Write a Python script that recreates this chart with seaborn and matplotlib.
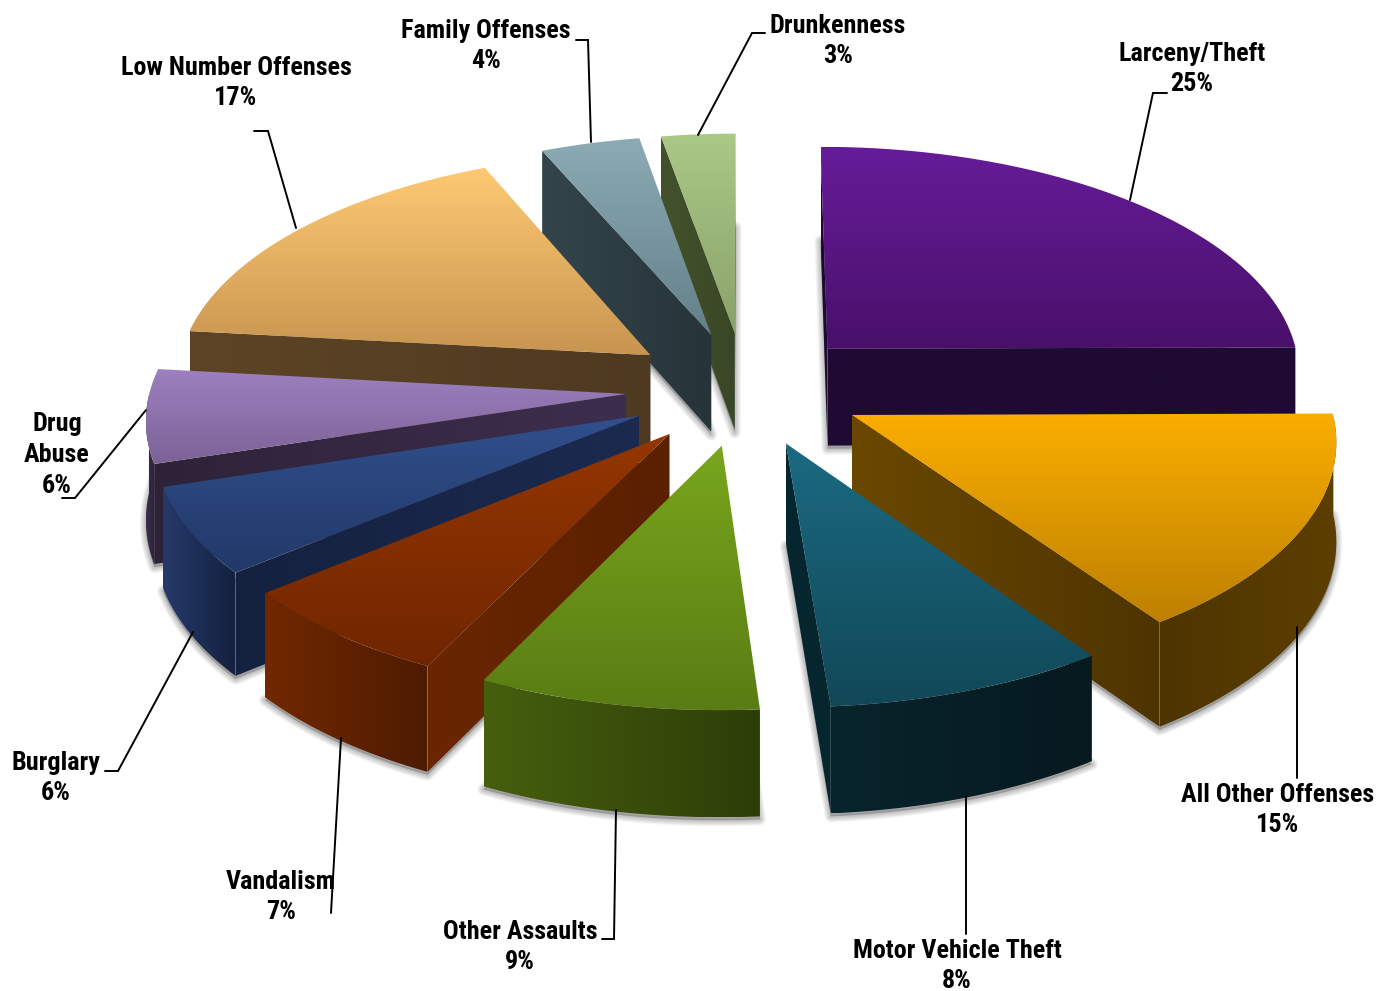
import numpy as np
import seaborn as sns
import matplotlib
matplotlib.use("Agg")
import matplotlib.pyplot as plt
from matplotlib.patches import Polygon
from matplotlib.path import Path

categories = ["Larceny/Theft", "All Other Offenses", "Motor Vehicle Theft", "Other Assaults",
              "Vandalism", "Burglary", "Drug\nAbuse", "Low Number Offenses", "Family Offenses", "Drunkenness"]
percent_labels = ["25%", "15%", "8%", "9%", "7%", "6%", "6%", "17%", "4%", "3%"]
shares = [24.9, 15.4, 8.5, 8.5, 6.8, 6.1, 6.55, 16.7, 3.75, 2.8]
top_light = ["#661C99", "#FBAE00", "#1B6A82", "#78A61C", "#953600", "#30508C", "#9D80BF", "#FFC973", "#8CABB5", "#AAC886"]
top_dark = ["#49106A", "#BD8000", "#114858", "#5A7C14", "#702600", "#223868", "#7B6296", "#C79550", "#64808A", "#8AA26A"]
wall_a = ["#1E0A33", "#6A4800", "#06262F", "#2C3E08", "#6A2600", "#14213F", "#2E2238", "#5E4426", "#33454B", "#44522C"]
wall_b = ["#1E0A33", "#4E3400", "#06262F", "#2C3E08", "#5A2000", "#1C2A50", "#3E2E4E", "#4E3A20", "#263439", "#3A4726"]
rim_left = ["#2A0F45", "#4E3400", "#08242C", "#465F0E", "#722800", "#263A6A", "#3C2E4E", "#5A4225", "#33454B", "#3F4E2A"]
rim_right = ["#1A0830", "#5C3F00", "#06191F", "#2C3E08", "#4E1B00", "#14213F", "#2E2238", "#4E3A20", "#2C3C42", "#3F4E2A"]

label_pos = [(1192, 69), (1278, 810), (957, 966), (520, 947), (281, 897), (56, 778), (57, 455), (236, 83), (486, 46), (838, 41)]
leaders = [[(1130, 200), (1153, 93), (1167, 93)], [(1297, 627), (1297, 778)], [(966, 796), (966, 934)],
           [(616, 810), (614, 939), (602, 939)], [(341, 738), (331, 913)], [(193, 632), (118, 771), (105, 771)],
           [(146, 410), (75, 498), (62, 498)], [(296, 228), (268, 131), (254, 131)],
           [(591, 142), (588, 40), (576, 40)], [(698, 135), (752, 33), (765, 33)]]

CX, CY, R, KR, P, DEPTH, EXPLODE = 745, 388.5, 476, 228, 0.094, 98, 0.25

sns.set_theme(style="white")
plt.rcParams["font.family"] = ["Liberation Sans Narrow", "Roboto Condensed", "Lato", "DejaVu Sans"]
fig = plt.figure(figsize=(13.77, 9.91), dpi=100)
ax = fig.add_axes([0, 0, 1, 1])


def project(X, Y, z=0.0):
    s = 1 / (1 + P * Y)
    return np.column_stack([CX + X * R * s, CY - Y * KR * s + z * DEPTH * (1 + (s - 1) * 0.7)])


def gradient_fill(poly, colors, horizontal, zorder):
    patch = Polygon(poly, closed=True, fc="none", ec="none", zorder=zorder)
    ax.add_patch(patch)
    cmap = sns.blend_palette(colors, as_cmap=True)
    grad = np.linspace(0, 1, 256)
    arr = grad[None, :] if horizontal else grad[:, None]
    xmin, ymin = poly.min(axis=0)
    xmax, ymax = poly.max(axis=0)
    im = ax.imshow(arr, cmap=cmap, extent=(xmin, xmax, ymax, ymin), origin="upper",
                   aspect="auto", zorder=zorder, interpolation="bilinear")
    im.set_clip_path(patch)


cum = np.cumsum([0] + shares) / sum(shares)
starts = np.pi / 2 - 2 * np.pi * cum[:-1]
ends = np.pi / 2 - 2 * np.pi * cum[1:]
mids = (starts + ends) / 2
order = np.argsort(-np.sin(mids))

# soft drop shadow under the whole exploded pie
for i in order:
    th = np.linspace(starts[i], ends[i], 60)
    ox, oy = EXPLODE * np.cos(mids[i]), EXPLODE * np.sin(mids[i])
    X = np.r_[ox, ox + np.cos(th)]
    Y = np.r_[oy, oy + np.sin(th)]
    low = project(X, Y, 1.0) + [0, 3]
    ax.add_patch(Polygon(low, closed=True, fc=(0, 0, 0, 0.22), ec="none", zorder=1))
    for lw in range(2, 14, 2):
        ax.add_patch(Polygon(low, closed=True, fc="none", ec=(0, 0, 0, 0.045), lw=lw * 0.72, zorder=1, joinstyle="round"))

z = 5
for i in order:
    th = np.linspace(starts[i], ends[i], 80)
    ox, oy = EXPLODE * np.cos(mids[i]), EXPLODE * np.sin(mids[i])
    rx, ry = ox + np.cos(th), oy + np.sin(th)
    top_rim = project(rx, ry, 0)
    low_rim = project(rx, ry, 1)
    apex_top = project(np.array([ox]), np.array([oy]), 0)
    apex_low = project(np.array([ox]), np.array([oy]), 1)
    top = np.vstack([apex_top, top_rim])
    top_path = Path(top)
    # radial walls: only those whose drop lies outside the top face
    for k in (0, -1):
        mid = (apex_top[0] + top_rim[k]) / 2
        if not top_path.contains_point(mid + [0, 3]):
            w = np.vstack([apex_top, top_rim[k], low_rim[k], apex_low])
            gradient_fill(w, [wall_a[i], wall_b[i]], True, z)
    # outer rim: only its viewer-facing part
    front = np.sin(th) < 0
    if front.sum() > 1:
        rim_poly = np.vstack([top_rim[front], low_rim[front][::-1]])
        gradient_fill(rim_poly, [rim_left[i], rim_right[i]], True, z + 1)
    gradient_fill(top, [top_light[i], top_dark[i]], False, z + 2)
    z += 3

for name, pct, (x, y) in zip(categories, percent_labels, label_pos):
    ax.text(x, y, f"{name}\n{pct}", ha="center", va="center", fontsize=18.8, fontweight="bold",
            color="black", linespacing=1.36, zorder=100)
for pts in leaders:
    p = np.array(pts)
    ax.plot(p[:, 0], p[:, 1], color="black", lw=1.4, zorder=90, solid_joinstyle="miter")

ax.set_xlim(0, 1377)
ax.set_ylim(991, 0)
ax.set_axis_off()
sns.despine(ax=ax, left=True, bottom=True)
fig.savefig("out.png", dpi=100, facecolor="white")
